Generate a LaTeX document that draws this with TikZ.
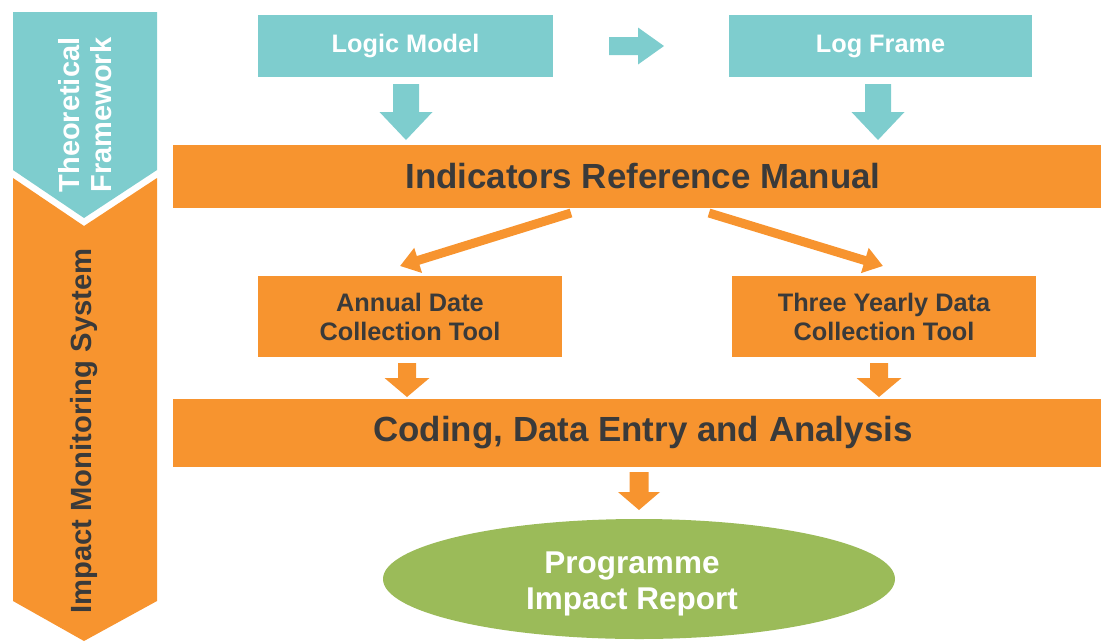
\documentclass[tikz,border=0pt]{standalone}
\usepackage{fontspec}
\setmainfont{Liberation Sans}
\usetikzlibrary{shapes.geometric,arrows.meta}
\definecolor{tealc}{HTML}{7ECDCE}
\definecolor{orangec}{HTML}{F7942F}
\definecolor{greenc}{HTML}{9BBB59}
\definecolor{darkc}{HTML}{3A3A3A}
\tikzset{
  pics/dn/.style n args={5}{code={\fill[#5] (-#1,0) -- (#1,0) -- (#1,#3) -- (#2,#3) -- (0,#4) -- (-#2,#3) -- (-#1,#3) -- cycle;}},
  pics/rt/.style n args={5}{code={\fill[#5] (0,-#1) -- (0,#1) -- (#3,#1) -- (#3,#2) -- (#4,0) -- (#3,-#2) -- (#3,-#1) -- cycle;}},
  tealbox/.style={fill=tealc, text=white, inner sep=0pt, align=center, font=\fontsize{25.3}{29}\selectfont\bfseries},
  orbox/.style={fill=orangec, text=darkc, inner sep=0pt, align=center, font=\fontsize{25.3}{29}\selectfont\bfseries},
  bigbox/.style={fill=orangec, text=darkc, inner sep=0pt, align=center, font=\fontsize{34.9}{40}\selectfont\bfseries},
  diag/.style={draw=orangec, line width=9pt, -{Triangle[width=25pt,length=19pt]}},
}
\begin{document}
\begin{tikzpicture}[x=1pt,y=-1pt]
\useasboundingbox (0,0) rectangle (1101,641);
% left chevrons
\fill[tealc] (13,12) -- (157,12) -- (157,170) -- (84,218) -- (13,170) -- cycle;
\fill[orangec] (13,178) -- (84,226) -- (157,178) -- (157,601) -- (84,641) -- (13,601) -- cycle;
\node[rotate=90, text=white, align=center, font=\fontsize{29}{32}\selectfont\bfseries] (tf) at (85,115) {Theoretical\\Framework};
\node[rotate=90, text=darkc, font=\fontsize{29.2}{32}\selectfont\bfseries] (ims) at (84,431) {Impact Monitoring System};
% top boxes
\node[tealbox, minimum width=295pt, minimum height=62pt] (lm) at (405.5,46) {Logic Model};
\node[tealbox, minimum width=303pt, minimum height=62pt] (lf) at (880.5,46) {Log Frame};
\pic (ra) at (609,46) {rt={9}{18.5}{29}{55}{tealc}};
\pic (da1) at (406,84) {dn={13}{26.5}{28}{56}{tealc}};
\pic (da2) at (878,84) {dn={13}{26.5}{28}{56}{tealc}};
% manual
\node[bigbox, minimum width=940pt, minimum height=63pt] (irm) at (643,176.5) {Indicators Reference Manual};
% tools
\node[orbox, minimum width=304pt, minimum height=81pt] (ann) at (410,316.5) {Annual Date\\Collection Tool};
\node[orbox, minimum width=304pt, minimum height=81pt] (thr) at (884,316.5) {Three Yearly Data\\Collection Tool};
\coordinate (d1s) at (571,213);
\coordinate (d1e) at (400,266);
\coordinate (d2s) at (709,213);
\coordinate (d2e) at (883,266);
\draw[diag] (d1s) -- (d1e);
\draw[diag] (d2s) -- (d2e);
\pic (oa1) at (407,363) {dn={9}{22.5}{15}{34}{orangec}};
\pic (oa2) at (879,363) {dn={9}{22.5}{15}{34}{orangec}};
% coding
\node[bigbox, minimum width=940pt, minimum height=68pt] (cod) at (643,433) {Coding, Data Entry and Analysis};
\pic (oa3) at (639,472) {dn={9.5}{21}{20}{38}{orangec}};
% report
\node[ellipse, fill=greenc, inner sep=0pt, minimum width=512pt, minimum height=120pt] (rep) at (639,579) {};
\node[text=white, align=center, font=\fontsize{31.5}{36}\selectfont\bfseries] (reptxt) at (632,584) {Programme\\Impact Report};
\end{tikzpicture}
\end{document}
